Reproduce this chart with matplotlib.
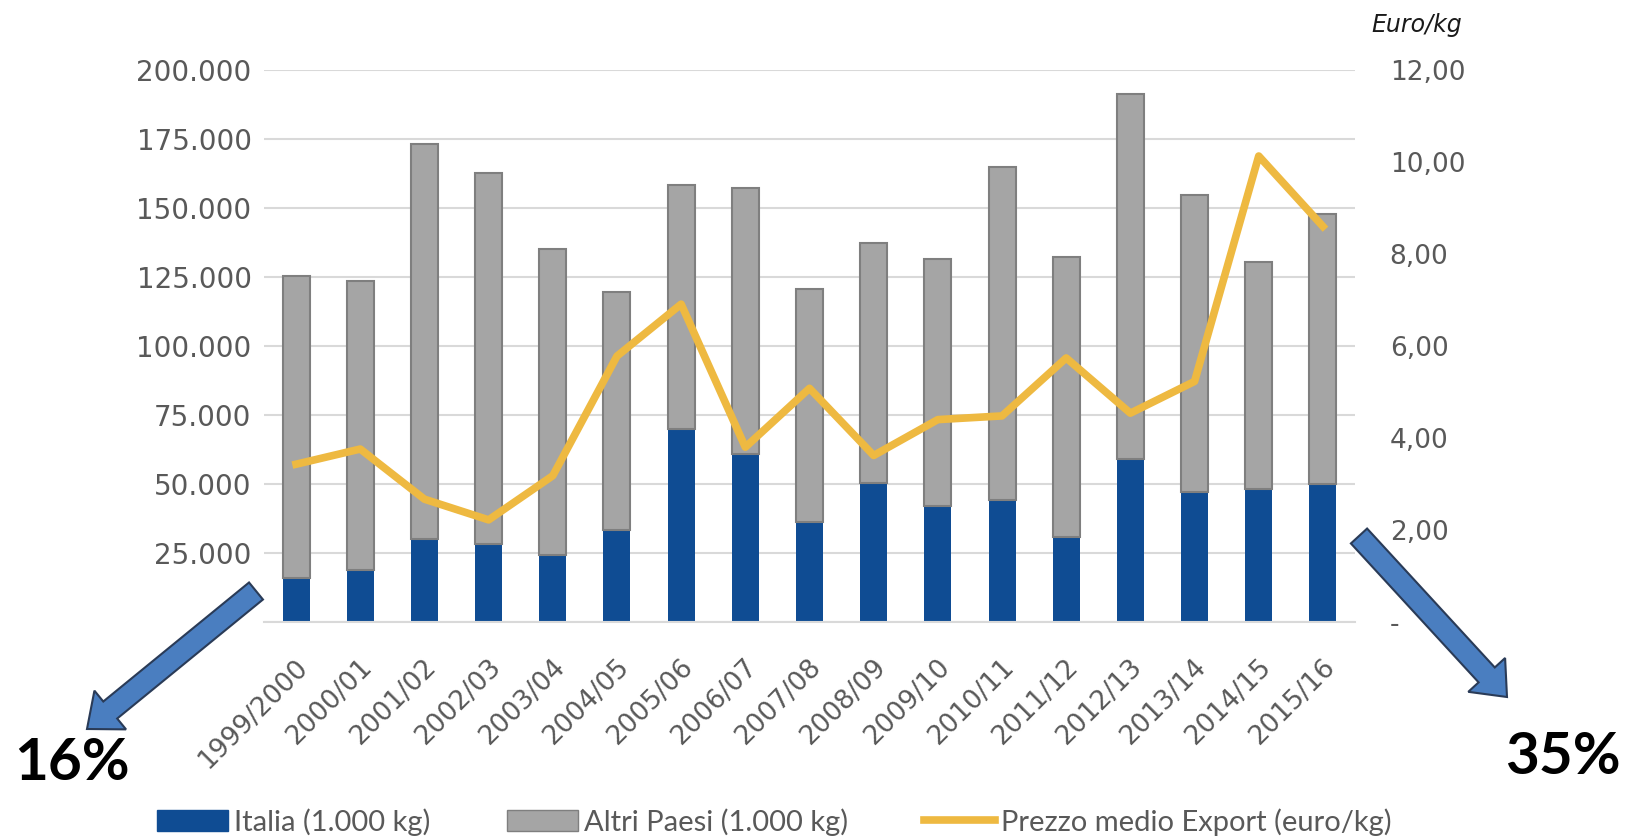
import matplotlib.pyplot as plt
import matplotlib.patches as mpatches
from matplotlib.lines import Line2D
from matplotlib.ticker import FuncFormatter, MultipleLocator
from matplotlib.transforms import ScaledTranslation

# Campaigns
anni = ['1999/2000', '2000/01', '2001/02', '2002/03', '2003/04', '2004/05',
        '2005/06', '2006/07', '2007/08', '2008/09', '2009/10', '2010/11',
        '2011/12', '2012/13', '2013/14', '2014/15', '2015/16']

# Export quantities (1.000 kg)
italia = [16.1, 18.9, 30.1, 28.1, 24.1, 33.2, 69.8, 60.8, 36.4, 50.4,
          42.0, 44.3, 30.7, 59.1, 47.2, 48.3, 50.0]
altri = [109.2, 104.7, 143.2, 134.6, 111.1, 86.5, 88.5, 96.4, 84.3, 86.8,
         89.6, 120.7, 101.7, 132.1, 107.6, 82.2, 97.7]
italia = [v * 1000 for v in italia]
altri = [v * 1000 for v in altri]

# Average export price (euro/kg)
prezzo = [3.43, 3.76, 2.67, 2.22, 3.18, 5.78, 6.91, 3.80, 5.08, 3.62,
          4.40, 4.48, 5.74, 4.54, 5.23, 10.13, 8.60]

BLU = '#0f4c93'
GRIGIO = '#a5a5a5'
ORO = '#eeb941'
TESTO = '#595959'

W, H = 1627, 839
fig = plt.figure(figsize=(W / 100, H / 100), dpi=100)
ax = fig.add_axes([264 / W, 1 - 622 / H, (1355 - 264) / W, (622 - 70) / H])

x = list(range(len(anni)))
ax.bar(x, italia, width=0.42, color=BLU, zorder=2, label='Italia (1.000 kg)')
ax.bar(x, altri, width=0.42, bottom=italia, color=GRIGIO, edgecolor='#7f7f7f',
       linewidth=1.5, zorder=2, label='Altri Paesi (1.000 kg)')

ax.set_xlim(-0.5, len(anni) - 0.5)
ax.set_ylim(0, 200000)
ax.yaxis.set_major_locator(MultipleLocator(25000))

def fmt_kg(v, pos):
    if v <= 0:
        return ''
    return '{:,.0f}'.format(v).replace(',', '.')

ax.yaxis.set_major_formatter(FuncFormatter(fmt_kg))
ax.grid(axis='y', color='#d9d9d9', linewidth=1.5, zorder=0)
ax.set_axisbelow(True)
for s in ['top', 'left', 'right']:
    ax.spines[s].set_visible(False)
ax.spines['bottom'].set_color('#d9d9d9')
ax.spines['bottom'].set_linewidth(1.5)
ax.tick_params(axis='y', length=0, pad=9, labelsize=20, labelcolor=TESTO)
ax.tick_params(axis='x', length=0, pad=30, labelsize=19, labelcolor=TESTO)
ax.set_xticks(x)
ax.set_xticklabels(anni, rotation=45, ha='right', va='center', rotation_mode='anchor')
shift = ScaledTranslation(8 / 100, 0, fig.dpi_scale_trans)
for lab in ax.get_xticklabels():
    lab.set_transform(lab.get_transform() + shift)

# Price on secondary axis
ax2 = ax.twinx()
ax2.plot(x, prezzo, color=ORO, linewidth=5.5, solid_joinstyle='round', zorder=3)
ax2.set_ylim(0, 12)
ax2.yaxis.set_major_locator(MultipleLocator(2))

def fmt_euro(v, pos):
    if v <= 0:
        return '-'
    return '{:.2f}'.format(v).replace('.', ',')

ax2.yaxis.set_major_formatter(FuncFormatter(fmt_euro))
ax2.tick_params(axis='y', length=0, pad=25, labelsize=19, labelcolor=TESTO)
for s in ax2.spines.values():
    s.set_visible(False)

fig.text(1462 / W, 1 - 25 / H, 'Euro/kg', ha='right', va='center', fontsize=17,
         style='italic', color='#1a1a1a')

# Overlay in pixel coordinates for arrows and percentages
ov = fig.add_axes([0, 0, 1, 1], zorder=5)
ov.set_xlim(0, W)
ov.set_ylim(H, 0)
ov.axis('off')
ov.patch.set_alpha(0)

def freccia(x0, y0, x1, y1):
    arr = mpatches.FancyArrow(x0, y0, x1 - x0, y1 - y0, width=22, head_width=50,
                              head_length=30, length_includes_head=True,
                              facecolor='#4a7ec0', edgecolor='#2a3b57', linewidth=1.5)
    ov.add_patch(arr)

freccia(256, 591, 87, 729)
freccia(1359, 536, 1507, 697)
ov.text(72, 763, '16%', ha='center', va='center', fontsize=42, fontweight='bold',
        family='Lato', color='black')
ov.text(1563, 758, '35%', ha='center', va='center', fontsize=42, fontweight='bold',
        family='Lato', color='black')

# Legend
handles = [mpatches.Patch(color=BLU),
           mpatches.Patch(facecolor=GRIGIO, edgecolor='#7f7f7f'),
           Line2D([0], [0], color=ORO, linewidth=5.5)]
labels = ['Italia (1.000 kg)', 'Altri Paesi (1.000 kg)', 'Prezzo medio Export (euro/kg)']
leg = fig.legend(handles, labels, loc='center left', bbox_to_anchor=(157 / W, 1 - 822 / H),
                 ncol=3, frameon=False, borderpad=0, borderaxespad=0,
                 handlelength=2.45, handleheight=0.75, handletextpad=0.2,
                 columnspacing=2.6, prop={'family': 'Lato', 'size': 21})
for t in leg.get_texts():
    t.set_color(TESTO)

fig.savefig('out.png', dpi=100)
